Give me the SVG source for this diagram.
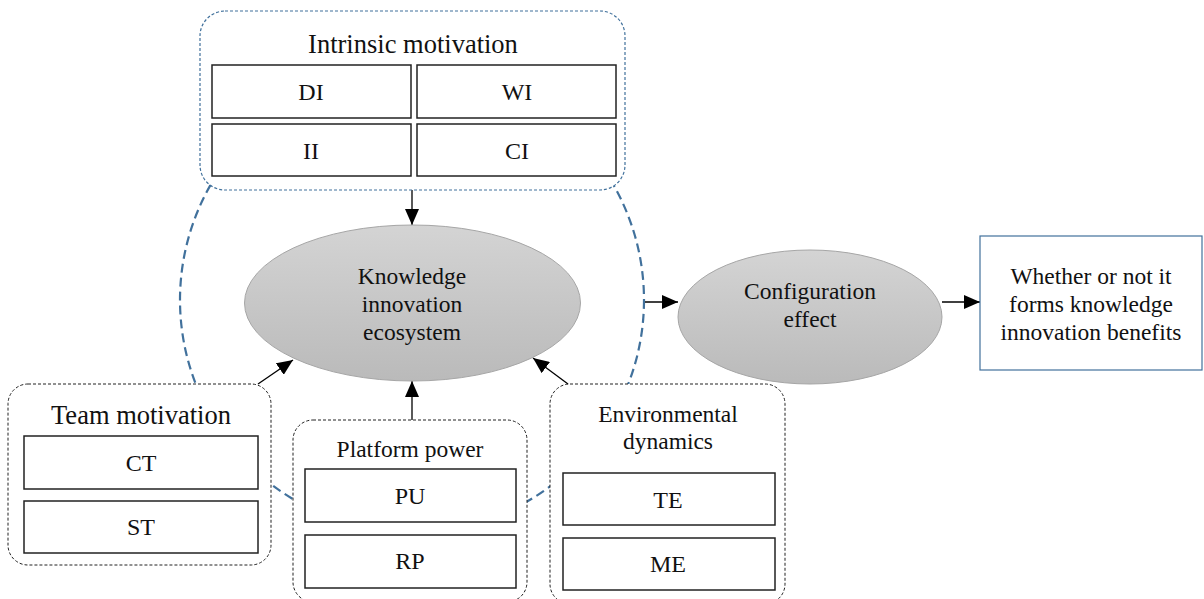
<svg xmlns="http://www.w3.org/2000/svg" width="1204" height="599" viewBox="0 0 1204 599">
<style>
text{font-family:"Liberation Serif","Times New Roman",serif;fill:#111;text-anchor:middle}
.t26{font-size:26.5px}
.t24{font-size:24px}
.t23{font-size:23.5px}
.grp{fill:#fff;stroke:#222;stroke-width:1;stroke-dasharray:3,2}
.grpb{fill:#fff;stroke:#41719c;stroke-width:1.2;stroke-dasharray:3,2}
.box{fill:#fff;stroke:#222;stroke-width:1.5}
.ell{fill:url(#g);stroke:#a6a6a6;stroke-width:1}
.con{stroke:#000;stroke-width:1.3;fill:none;marker-end:url(#ah2)}
</style>
<defs>
<linearGradient id="g" x1="0" y1="0" x2="0" y2="1">
<stop offset="0" stop-color="#d4d4d4"/>
<stop offset="1" stop-color="#bababa"/>
</linearGradient>
<marker id="ah2" viewBox="0 0 16 14" refX="16" refY="7" markerWidth="16" markerHeight="14" orient="auto" markerUnits="userSpaceOnUse">
<path d="M0,0 L16,7 L0,14 z" fill="#000"/>
</marker>
</defs>
<rect width="1204" height="599" fill="#fff"/>
<g id="circle">
<circle cx="412" cy="300" r="232" fill="none" stroke="#41719c" stroke-width="2.2" stroke-dasharray="9,5"/>
</g>
<g id="connectors">
<line class="con" x1="412" y1="190" x2="412" y2="225"/>
<line class="con" x1="258" y1="384" x2="293" y2="360"/>
<line class="con" x1="412" y1="420" x2="412" y2="381"/>
<line class="con" x1="568" y1="384" x2="533" y2="358"/>
<line class="con" x1="645" y1="302" x2="678" y2="302"/>
<line class="con" x1="942" y1="302" x2="980" y2="302"/>
</g>
<g id="intrinsic">
<rect class="grpb" x="200" y="11" width="425" height="179" rx="25"/>
<text class="t26" x="413" y="53">Intrinsic motivation</text>
<rect class="box" x="212" y="65" width="199" height="53"/>
<text class="t24" x="311" y="100">DI</text>
<rect class="box" x="417" y="65" width="199" height="53"/>
<text class="t24" x="517" y="100">WI</text>
<rect class="box" x="212" y="124" width="199" height="52"/>
<text class="t24" x="311" y="159">II</text>
<rect class="box" x="417" y="124" width="199" height="52"/>
<text class="t24" x="517" y="159">CI</text>
</g>
<g id="kie">
<ellipse class="ell" cx="412.5" cy="303" rx="168" ry="78"/>
<text class="t23" x="412" y="284">Knowledge</text>
<text class="t23" x="412" y="312">innovation</text>
<text class="t23" x="412" y="340">ecosystem</text>
</g>
<g id="team">
<rect class="grp" x="8" y="384" width="263" height="181" rx="20"/>
<text class="t26" x="141" y="424">Team motivation</text>
<rect class="box" x="24" y="436" width="234" height="53"/>
<text class="t24" x="141" y="471">CT</text>
<rect class="box" x="24" y="501" width="234" height="52"/>
<text class="t24" x="141" y="535">ST</text>
</g>
<g id="platform">
<rect class="grp" x="293" y="420" width="234" height="182" rx="20"/>
<text class="t23" x="410" y="457">Platform power</text>
<rect class="box" x="305" y="469" width="211" height="53"/>
<text class="t24" x="410" y="504">PU</text>
<rect class="box" x="305" y="535" width="211" height="53"/>
<text class="t24" x="410" y="569">RP</text>
</g>
<g id="env">
<rect class="grp" x="550" y="384" width="235" height="220" rx="20"/>
<text class="t23" x="668" y="422">Environmental</text>
<text class="t23" x="668" y="449">dynamics</text>
<rect class="box" x="563" y="473" width="212" height="52"/>
<text class="t24" x="668" y="508">TE</text>
<rect class="box" x="563" y="538" width="212" height="52"/>
<text class="t24" x="668" y="572">ME</text>
</g>
<g id="config">
<ellipse class="ell" cx="810" cy="317" rx="132" ry="67"/>
<text class="t23" x="810" y="299">Configuration</text>
<text class="t23" x="810" y="327">effect</text>
</g>
<g id="benefits">
<rect x="980" y="236" width="222" height="134" fill="#fff" stroke="#41719c" stroke-width="1.2"/>
<text class="t23" x="1091" y="284">Whether or not it</text>
<text class="t23" x="1091" y="312">forms knowledge</text>
<text class="t23" x="1091" y="340">innovation benefits</text>
</g>
</svg>
